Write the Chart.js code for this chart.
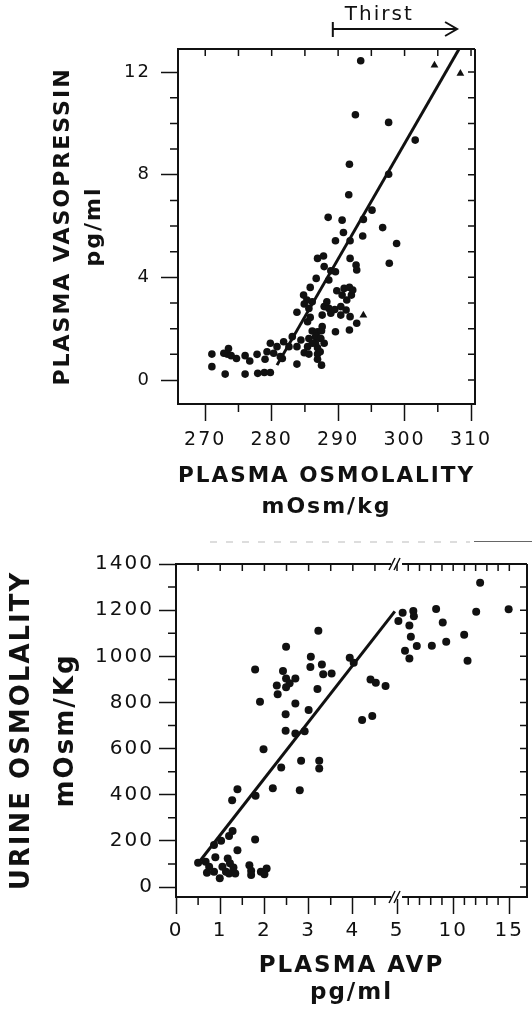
<!DOCTYPE html>
<html>
<head>
<meta charset="utf-8">
<script src="https://cdn.jsdelivr.net/npm/chart.js@4.4.1/dist/chart.umd.min.js"></script>
<style>
  body { margin: 0; background: #fff; width: 532px; height: 1012px; overflow: hidden; }
  canvas { position: absolute; left: 0; }
  #topChart { top: 0; }
  #bottomChart { top: 540px; }
</style>
</head>
<body>
<canvas id="topChart" width="532" height="540"></canvas>
<canvas id="bottomChart" width="532" height="472"></canvas>
<script>
// ---- top panel: plasma osmolality vs plasma vasopressin ----
const osmolality = [293.4, 292.6, 297.6, 301.6, 291.7, 297.6, 291.6,
  295.1, 288.5, 290.6, 293.8, 296.7, 290.8, 289.6, 291.8, 293.7, 298.8,
  286.9, 287.8, 291.8, 297.7, 292.7, 292.8, 287.9, 288.9, 289.6, 286.7,
  288.6, 285.8, 289.8, 290.9, 291.7, 292.0, 291.3, 284.8, 285.3, 284.9,
  286.1, 285.6, 287.9, 288.6, 289.5, 290.4, 291.2, 287.6, 288.9, 290.4,
  283.8, 291.8, 285.4, 285.8, 292.8, 291.7, 289.6, 286.1, 286.9, 287.5,
  283.1, 281.8, 285.6, 286.6, 287.4, 287.9, 286.6, 285.4, 283.8, 284.9,
  285.6, 286.9, 286.9, 287.5, 283.8, 279.8, 280.8, 279.3, 280.3, 279.0,
  281.3, 277.8, 276.7, 276.0, 274.7, 273.5, 273.3, 273.9, 272.8, 271.0,
  271.0, 273.0, 276.0, 277.9, 278.9, 279.8, 281.6, 282.6, 286.9, 286.1,
  287.3, 287.6, 284.4, 288.3, 290.6, 292.2];
const vasopressin = [12.44, 10.34, 10.04, 9.35, 8.41, 8.02, 7.22,
  6.62, 6.34, 6.23, 6.26, 5.94, 5.75, 5.43, 5.43, 5.61, 5.32,
  4.74, 4.83, 4.74, 4.55, 4.48, 4.29, 4.42, 4.26, 4.22, 3.96,
  3.90, 3.61, 3.48, 3.57, 3.61, 3.31, 3.12, 3.31, 3.12, 2.96,
  3.05, 2.79, 2.86, 2.79, 2.75, 2.86, 2.73, 2.53, 2.60, 2.53,
  2.64, 2.47, 2.27, 2.44, 2.21, 1.95, 1.88, 1.91, 1.88, 1.92,
  1.69, 1.49, 1.62, 1.69, 1.62, 1.43, 1.43, 1.30, 1.30, 1.06,
  1.01, 1.01, 0.81, 0.58, 0.62, 1.43, 1.30, 1.10, 1.04, 0.81,
  0.91, 1.00, 0.74, 0.95, 0.84, 1.23, 1.01, 0.95, 1.04, 1.01,
  0.52, 0.23, 0.23, 0.26, 0.29, 0.29, 0.84, 1.30, 1.26, 1.43,
  1.10, 2.08, 1.56, 3.05, 3.31, 3.51];
const triOsmolality = [304.5, 308.4, 293.8];
const triVasopressin = [12.27, 11.95, 2.52];
const fitOsmolality = [280.8, 308.2];
const fitVasopressin = [0.58, 12.9];
const thirstRange = [289.2, 307.9];
const osmTicks = [270, 275, 280, 285, 290, 295, 300, 305, 310];
const osmLabels = ['270', '', '280', '', '290', '', '300', '', '310'];
const vasoTicks = [0, 1, 2, 3, 4, 5, 6, 7, 8, 9, 10, 11, 12];
const vasoLabels = ['0', '', '', '', '4', '', '', '', '8', '', '', '', '12'];

// ---- bottom panel: plasma AVP vs urine osmolality ----
const plasmaAvp = [12.4, 12.05, 14.94, 8.48, 9.07, 10.98, 9.38, 8.1, 11.28,
  5.5, 6.45, 6.5, 5.12, 6.1, 6.23, 6.76, 5.71, 6.1,
  3.22, 2.49, 3.05, 3.04, 3.3, 3.33, 3.52, 3.93, 4.02, 1.79, 2.42, 2.49,
  2.7, 2.57, 2.49, 2.28, 2.3, 3.2, 1.9, 2.7, 3.0, 2.48, 4.4, 4.52, 4.74,
  4.21, 4.44, 2.48, 2.91, 2.7, 1.98, 2.38, 2.83, 3.24, 3.24, 2.19, 2.8,
  1.8, 1.39, 1.27, 1.28, 1.2, 1.02, 0.86, 1.79, 1.39, 0.89, 1.17, 0.5,
  0.67, 0.75, 0.7, 0.86, 0.99, 1.05, 1.13, 1.22, 1.3, 1.2, 1.34, 1.66,
  1.7, 1.7, 1.92, 2.05, 2.0];
const urineOsm = [1319, 1193, 1204, 1205, 1146, 1093, 1063, 1046, 981,
  1189, 1196, 1174, 1153, 1134, 1085, 1045, 1024, 991,
  1111, 1041, 998, 954, 965, 922, 926, 994, 972, 943, 936, 904,
  904, 883, 866, 873, 836, 858, 803, 796, 767, 749, 900, 885, 871,
  724, 741, 677, 675, 666, 597, 518, 547, 547, 514, 428, 420,
  396, 424, 376, 243, 221, 201, 182, 206, 160, 129, 124, 105,
  110, 88, 62, 66, 38, 88, 66, 103, 85, 59, 59, 95,
  71, 52, 66, 81, 56];
const fitAvp = [0.55, 4.95];
const fitUrine = [115, 1195];
const avpTicks = [0, 0.5, 1, 1.5, 2, 2.5, 3, 3.5, 4, 4.5, 5, 6, 7, 8, 9, 10, 11, 12, 13, 14, 15];
const avpLabels = ['0', '', '1', '', '2', '', '3', '', '4', '', '5', '', '', '', '', '10', '', '', '', '', '15'];
const urineTicks = [0, 100, 200, 300, 400, 500, 600, 700, 800, 900, 1000, 1100, 1200, 1300, 1400];
const urineLabels = ['0', '', '200', '', '400', '', '600', '', '800', '', '1000', '', '1200', '', '1400'];

// the AVP axis is broken at 5: above it the scale is compressed
const AVP_BREAK = 5;
const squeeze = v => v <= AVP_BREAK ? v : AVP_BREAK + (v - AVP_BREAK) * 0.254;

const INK = '#111';
const FONT = 'DejaVu Sans';

const pts = (xs, ys, fx = v => v) => xs.map((x, i) => ({ x: fx(x), y: ys[i] }));

function axis(ticks, labels, min, max, size, pad, title, extra) {
  return Object.assign({
    type: 'linear',
    min: min,
    max: max,
    afterBuildTicks: s => { s.ticks = ticks.map(v => ({ value: v })); },
    ticks: {
      autoSkip: false,
      maxRotation: 0,
      padding: pad,
      color: INK,
      font: { family: FONT, size: size },
      callback: (v, i) => labels[i]
    },
    grid: {
      drawOnChartArea: false,
      drawTicks: true,
      tickLength: 17,
      tickWidth: 1.5,
      tickColor: c => (c.tick && c.tick.label !== '') ? INK : 'rgba(0,0,0,0)'
    },
    border: { display: true, color: INK, width: 2 },
    title: title
  }, extra);
}

const frame = {
  id: 'frame',
  beforeDraw(chart) {
    chart.ctx.letterSpacing = '2px';
  },
  afterDraw(chart, args, o) {
    const ctx = chart.ctx;
    const a = chart.chartArea;
    const xs = chart.scales.x, ys = chart.scales.y;
    ctx.save();
    ctx.strokeStyle = INK;
    ctx.fillStyle = INK;
    ctx.lineWidth = 1.5;
    ctx.beginPath();
    // minor ticks outside, inner ticks on top and right
    xs.ticks.forEach(t => {
      const px = xs.getPixelForValue(t.value);
      if (t.label === '') { ctx.moveTo(px, a.bottom); ctx.lineTo(px, a.bottom + 8); }
      ctx.moveTo(px, a.top); ctx.lineTo(px, a.top + 7);
    });
    ys.ticks.forEach(t => {
      const py = ys.getPixelForValue(t.value);
      if (t.label === '') { ctx.moveTo(a.left, py); ctx.lineTo(a.left - 8, py); }
      ctx.moveTo(a.right, py); ctx.lineTo(a.right - 7, py);
    });
    ctx.stroke();
    // top and right border
    ctx.lineWidth = 2;
    ctx.beginPath();
    const bx = o.breakAt != null ? xs.getPixelForValue(o.breakAt) : null;
    if (bx != null) {
      ctx.moveTo(a.left, a.top); ctx.lineTo(bx - 6, a.top);
      ctx.moveTo(bx + 5, a.top); ctx.lineTo(a.right, a.top);
    } else {
      ctx.moveTo(a.left, a.top); ctx.lineTo(a.right, a.top);
    }
    ctx.moveTo(a.right, a.top); ctx.lineTo(a.right, a.bottom);
    ctx.stroke();
    if (bx != null) {
      ctx.fillStyle = '#fff';
      ctx.fillRect(bx - 6, a.bottom - 2, 11, 4);
      ctx.lineWidth = 1.5;
      ctx.beginPath();
      [a.top, a.bottom].forEach(y => {
        ctx.moveTo(bx - 8, y + 6); ctx.lineTo(bx - 2, y - 6);
        ctx.moveTo(bx - 3, y + 6); ctx.lineTo(bx + 3, y - 6);
      });
      ctx.stroke();
    }
    if (o.thirst) {
      const x0 = xs.getPixelForValue(o.thirst[0]);
      const x1 = xs.getPixelForValue(o.thirst[1]);
      const y = 29;
      ctx.lineWidth = 2;
      ctx.beginPath();
      ctx.moveTo(x0, y - 7); ctx.lineTo(x0, y + 8);
      ctx.moveTo(x0, y); ctx.lineTo(x1, y);
      ctx.moveTo(x1 - 12, y - 7); ctx.lineTo(x1, y); ctx.lineTo(x1 - 12, y + 7);
      ctx.stroke();
      ctx.fillStyle = INK;
      ctx.font = '20px ' + FONT;
      ctx.textAlign = 'left';
      ctx.textBaseline = 'middle';
      ctx.fillText('Thirst', x0 + 12, 15);
    }
    if (o.scanLine) {
      ctx.lineWidth = 1;
      ctx.strokeStyle = '#bbb';
      ctx.setLineDash([7, 9]);
      ctx.beginPath();
      ctx.moveTo(210, 2); ctx.lineTo(470, 2);
      ctx.stroke();
      ctx.setLineDash([]);
      ctx.strokeStyle = '#666';
      ctx.beginPath();
      ctx.moveTo(474, 1.5); ctx.lineTo(532, 1.5);
      ctx.stroke();
    }
    ctx.restore();
  }
};

Chart.defaults.animation = false;
Chart.defaults.color = INK;

new Chart(document.getElementById('topChart'), {
  type: 'scatter',
  data: {
    datasets: [
      { data: pts(osmolality, vasopressin), pointStyle: 'circle', pointRadius: 3.8,
        backgroundColor: INK, borderColor: INK, borderWidth: 0 },
      { data: pts(triOsmolality, triVasopressin), pointStyle: 'triangle', pointRadius: 4.5,
        backgroundColor: INK, borderColor: INK, borderWidth: 0 },
      { data: pts(fitOsmolality, fitVasopressin), showLine: true, pointRadius: 0,
        borderColor: INK, borderWidth: 3, clip: 0 }
    ]
  },
  options: {
    responsive: false,
    layout: { padding: { top: 49, right: 57, left: 0, bottom: 0 } },
    plugins: {
      legend: { display: false },
      tooltip: { enabled: false },
      frame: { thirst: thirstRange }
    },
    scales: {
      x: axis(osmTicks, osmLabels, 265.9, 310.6, 19, 8, {
        display: true, text: ['PLASMA OSMOLALITY', 'mOsm/kg'], color: INK,
        font: { family: FONT, size: 22, weight: 'bold', lineHeight: 31 / 22 },
        padding: { top: 0, bottom: 17.5 }
      }, { afterFit: s => { s.height = 136; } }),
      y: axis(vasoTicks, vasoLabels, -0.935, 12.9, 18, 10, {
        display: true, text: ['PLASMA VASOPRESSIN', 'pg/ml'], color: INK,
        font: { family: FONT, size: 22, weight: 'bold', lineHeight: 31 / 22 },
        padding: { top: 48, bottom: 0 }
      }, { afterFit: s => { s.width = 178; } })
    }
  },
  plugins: [frame]
});

new Chart(document.getElementById('bottomChart'), {
  type: 'scatter',
  data: {
    datasets: [
      { data: pts(plasmaAvp, urineOsm, squeeze), pointStyle: 'circle', pointRadius: 4,
        backgroundColor: INK, borderColor: INK, borderWidth: 0 },
      { data: pts(fitAvp, fitUrine, squeeze), showLine: true, pointRadius: 0,
        borderColor: INK, borderWidth: 3, clip: 0 }
    ]
  },
  options: {
    responsive: false,
    layout: { padding: { top: 24, right: 5, left: 0, bottom: 0 } },
    plugins: {
      legend: { display: false },
      tooltip: { enabled: false },
      frame: { breakAt: AVP_BREAK, scanLine: true }
    },
    scales: {
      x: axis(avpTicks.map(squeeze), avpLabels, 0, 7.94, 20, 5, {
        display: true, text: ['PLASMA AVP', 'pg/ml'], color: INK,
        font: { family: FONT, size: 23, weight: 'bold', lineHeight: 27 / 23 },
        padding: { top: 0, bottom: 5.5 }
      }, { afterFit: s => { s.height = 115; } }),
      y: axis(urineTicks, urineLabels, -43, 1400, 20, 5, {
        display: true, text: ['URINE OSMOLALITY', 'mOsm/Kg'], color: INK,
        font: { family: FONT, size: 26, weight: 'bold', lineHeight: 44 / 26 },
        padding: { top: 0, bottom: 0 }
      }, { afterFit: s => { s.width = 176; } })
    }
  },
  plugins: [frame]
});
</script>
</body>
</html>
